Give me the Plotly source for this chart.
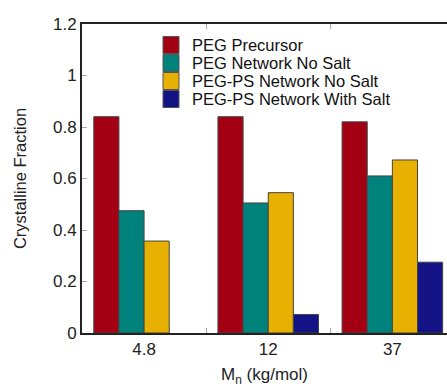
import plotly.graph_objects as go

categories = ["4.8", "12", "37"]
series_names = ["PEG Precursor", "PEG Network No Salt", "PEG-PS Network No Salt", "PEG-PS Network With Salt"]
peg_precursor = [0.84, 0.84, 0.82]
peg_network_no_salt = [0.475, 0.505, 0.61]
pegps_network_no_salt = [0.357, 0.545, 0.672]
pegps_network_with_salt = [None, 0.072, 0.275]
colors = ["#A30014", "#00827C", "#E8B000", "#141385"]

values = [peg_precursor, peg_network_no_salt, pegps_network_no_salt, pegps_network_with_salt]

W, H = 447, 389
L, R, T, B = 82, 0, 24, 56
pw, ph = W - L - R, H - T - B

def px_x(px):
    return (px - L) / pw

def px_y(py):
    return (H - B - py) / ph

fig = go.Figure()
for name, vals, col in zip(series_names, values, colors):
    fig.add_trace(go.Bar(
        x=categories, y=vals, name=name,
        marker=dict(color=col, line=dict(color="#444444", width=1)),
    ))

# manual legend
shapes, annots = [], []
for i, (name, col) in enumerate(zip(series_names, colors)):
    cy = 45 + 18 * i
    shapes.append(dict(type="rect", xref="paper", yref="paper",
                       x0=px_x(163), x1=px_x(179), y0=px_y(cy + 8.5), y1=px_y(cy - 8.5),
                       fillcolor=col, line=dict(color="#555555", width=1)))
    annots.append(dict(xref="paper", yref="paper", x=px_x(190), y=px_y(cy),
                       xanchor="left", yanchor="middle", showarrow=False,
                       text=name, font=dict(size=16.5, color="#111111")))

font_family = "Liberation Sans, Arial, sans-serif"
fig.update_layout(
    width=W, height=H,
    margin=dict(l=L, r=R, t=T, b=B),
    paper_bgcolor="white", plot_bgcolor="white",
    barmode="group", bargap=0.19, bargroupgap=0,
    font=dict(family=font_family, size=17, color="#222222"),
    showlegend=False,
    shapes=shapes, annotations=annots,
    xaxis=dict(
        type="category", range=[-0.5, 2.44],
        showline=True, linecolor="#222222", linewidth=2,
        mirror="ticks", ticks="inside", tickson="boundaries",
        ticklen=5, tickcolor="#aaaaaa", showgrid=False,
        tickfont=dict(size=17),
        title=dict(text="M<sub>n</sub> (kg/mol)", font=dict(size=17), standoff=10),
    ),
    yaxis=dict(
        range=[0, 1.2], dtick=0.2,
        showline=True, linecolor="#222222", linewidth=2,
        ticks="inside", ticklen=5, tickcolor="#aaaaaa", showgrid=False,
        zeroline=False, tickfont=dict(size=17),
        title=dict(text="Crystalline Fraction", font=dict(size=16.5), standoff=22),
    ),
)

fig.write_html("out.html")
